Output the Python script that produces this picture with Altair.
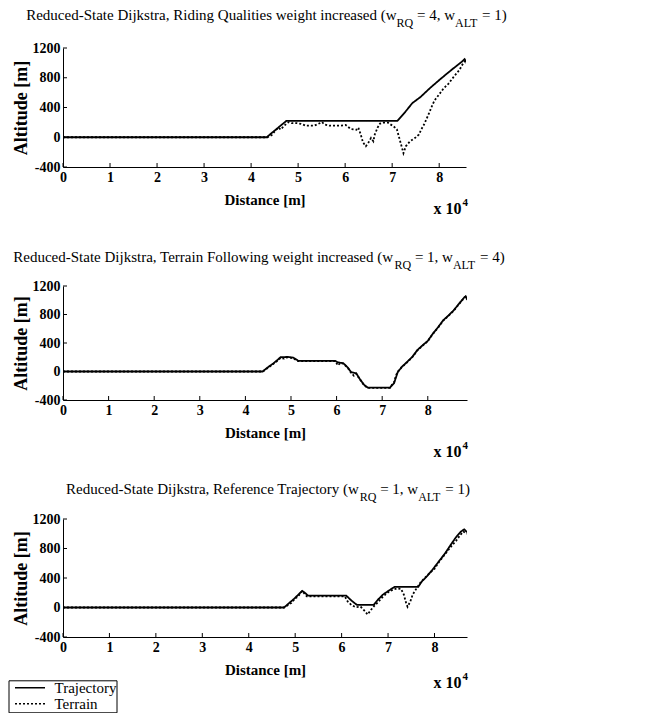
import altair as alt
import pandas as pd

# ---------------- data (distance in m, altitude in m) ----------------
p1_traj_x = [0, 43300, 47500, 71100, 72700, 74300, 76000, 78200, 80400, 82600, 84800, 85400, 85900]
p1_traj_y = [0, 0, 220, 220, 334, 460, 540, 670, 790, 905, 1015, 1050, 1000]
p1_terr_x = [0, 43500, 44400, 45200, 45800, 46300, 46900, 47500, 48000, 48600, 49700, 50600,
             51700, 53400, 55100, 55600, 56700, 59000, 60100, 61200, 62400, 62800, 63300,
             63800, 64400, 64900, 65500, 66000, 66300, 66900, 67400, 68200, 69100, 69600,
             70200, 71000, 71500, 72100, 72400, 72900, 73800, 74900, 75700, 76200, 76800,
             77600, 78500, 79000, 80100, 80900, 82000, 83100, 84300, 85100, 85600, 85900]
p1_terr_y = [0, 0, 30, 95, 129, 103, 147, 181, 203, 190, 190, 181,
             155, 155, 203, 172, 155, 155, 165, 110, 100, 130, 40,
             -70, -120, -77, -10, -54, 37, 129, 183, 197, 197, 174,
             152, 106, -8, -145, -214, -122, -54, -8, 37, 106, 174,
             288, 425, 494, 585, 654, 722, 814, 905, 996, 1030, 985]

p2_traj_x = [0, 43800, 44900, 46100, 47000, 47700, 49300, 50500, 51600, 59700, 60300, 61500,
             62400, 63200, 64300, 65100, 66000, 66800, 71700, 72600, 73400, 74300, 75400,
             76600, 77700, 78900, 80000, 81100, 82300, 83400, 84600, 85700, 86900, 88000,
             88300, 88600]
p2_traj_y = [0, 0, 58, 112, 160, 200, 205, 195, 150, 150, 128, 115,
             60, -10, -25, -105, -185, -225, -225, -165, -10, 65, 130,
             205, 300, 370, 430, 530, 625, 720, 790, 860, 955, 1040,
             1055, 1015]
p2_terr_x = [0, 43800, 44900, 46100, 47000, 47700, 48500, 49300, 50500, 51600, 59700, 60300,
             60800, 61500, 62400, 63200, 63800, 64300, 65100, 66000, 66800, 71700, 72200,
             72600, 73000, 73400, 74300, 75400, 76600, 77700, 78900, 80000, 81100, 82300,
             83400, 84600, 85700, 86900, 88000, 88300, 88600]
p2_terr_y = [0, 0, 50, 105, 150, 190, 180, 200, 185, 145, 145, 85,
             120, 110, 55, -20, -60, -30, -110, -190, -230, -230, -180,
             -150, -60, -5, 60, 125, 200, 295, 365, 425, 525, 620,
             715, 785, 855, 950, 1035, 1050, 1005]

p3_traj_x = [0, 47600, 49800, 51500, 52000, 52800, 61000, 62100, 63300, 66900, 67800, 68900,
             70300, 71400, 76500, 77300, 78400, 79600, 81000, 82400, 83500, 84600, 85700,
             86400, 87000]
p3_traj_y = [0, 0, 120, 225, 205, 160, 160, 95, 35, 35, 105, 175,
             235, 280, 280, 355, 425, 515, 630, 745, 850, 950, 1030,
             1060, 1020]
p3_terr_x = [0, 47600, 49200, 50000, 50600, 51500, 52500, 60700, 61300, 62100, 63000, 64100,
             64900, 65600, 66300, 67200, 67800, 68600, 69400, 70300, 71100, 72000, 72800,
             73400, 73900, 74200, 74800, 75300, 76200, 77000, 77900, 79000, 80000, 81000,
             82900, 84000, 84600, 85400, 86200, 87000]
p3_terr_y = [0, 0, 63, 126, 146, 225, 150, 150, 82, 35, 5, 10,
             -43, -95, -34, 35, 68, 128, 174, 220, 243, 260, 252,
             174, 58, 10, 82, 174, 266, 340, 400, 470, 525, 620,
             774, 860, 900, 970, 1030, 1000]

series_names = ["Trajectory", "Terrain"]
x_tick_values = [0, 10000, 20000, 30000, 40000, 50000, 60000, 70000, 80000]
y_tick_values = [-400, 0, 400, 800, 1200]

titles = [
    [("Reduced-State Dijkstra, Riding Qualities weight increased (w", 0), ("RQ", 1),
     (" = 4, w", 0), ("ALT", 1), (" = 1)", 0)],
    [("Reduced-State Dijkstra, Terrain Following weight increased (w", 0), ("RQ", 1),
     (" = 1, w", 0), ("ALT", 1), (" = 4)", 0)],
    [("Reduced-State Dijkstra, Reference Trajectory (w", 0), ("RQ", 1),
     (" = 1, w", 0), ("ALT", 1), (" = 1)", 0)],
]

# ---------------- layout ----------------
FONT = "Liberation Serif"
panels = [
    dict(tx=p1_traj_x, ty=p1_traj_y, rx=p1_terr_x, ry=p1_terr_y, xmax=85700, w=403, h=119,
         title_base=-28, title_dx=2, exp_base=46.6),
    dict(tx=p2_traj_x, ty=p2_traj_y, rx=p2_terr_x, ry=p2_terr_y, xmax=88600, w=404, h=114,
         title_base=-24, title_dx=-6, exp_base=56.6),
    dict(tx=p3_traj_x, ty=p3_traj_y, rx=p3_terr_x, ry=p3_terr_y, xmax=87000, w=404, h=118,
         title_base=-25, title_dx=3, exp_base=50.6),
]

# Times / Liberation Serif advance widths (per 1000 em)
TW = {' ': 250, '(': 333, ')': 333, ',': 250, '-': 333, '=': 564, '.': 250,
      'a': 444, 'b': 500, 'c': 444, 'd': 500, 'e': 444, 'f': 333, 'g': 500, 'h': 500,
      'i': 278, 'j': 278, 'k': 500, 'l': 278, 'm': 778, 'n': 500, 'o': 500, 'p': 500,
      'q': 500, 'r': 333, 's': 389, 't': 278, 'u': 500, 'v': 500, 'w': 722, 'x': 500,
      'y': 500, 'z': 444,
      'A': 722, 'D': 722, 'F': 556, 'L': 611, 'Q': 722, 'R': 667, 'S': 556, 'T': 611}
for d in "0123456789":
    TW[d] = 500


def text_w(s, size):
    return sum(TW.get(c, 500) for c in s) * size / 1000.0


MAIN_FS = 15
SUB_FS = 12
SUB_DY = 7

y_scale = alt.Scale(domain=[-400, 1200], nice=False, zero=False)
dash_scale = alt.Scale(domain=series_names, range=[[1, 0], [2, 2]])

legend = alt.Legend(
    title=None, orient="none", legendX=-54.5, legendY=632.3,
    strokeColor="black", fillColor="white", padding=0, rowPadding=0,
    labelFont=FONT, labelFontSize=15, labelColor="black", labelFontWeight="normal",
    symbolType="M-2.5,0H2.5", symbolSize=144, symbolStrokeColor="black",
    symbolStrokeWidth=1.5, symbolOffset=14, labelOffset=17, cornerRadius=0,
)

x_axis = alt.Axis(values=x_tick_values, labelExpr="'' + (datum.value / 10000)",
                  title="Distance [m]")
y_axis = alt.Axis(values=y_tick_values, labelExpr="'' + datum.value", title="Altitude [m]")

charts = []
for i, p in enumerate(panels):
    x_scale = alt.Scale(domain=[0, p["xmax"]], nice=False, zero=False)
    rows = []
    for xv, yv in zip(p["tx"], p["ty"]):
        rows.append({"d": xv, "alt": yv, "series": "Trajectory"})
    for xv, yv in zip(p["rx"], p["ry"]):
        rows.append({"d": xv, "alt": yv, "series": "Terrain"})
    df = pd.DataFrame(rows)
    df["o"] = range(len(df))

    lines = alt.Chart(df).mark_line(strokeWidth=1.8, clip=True, color="black").encode(
        x=alt.X("d:Q", scale=x_scale, axis=x_axis),
        y=alt.Y("alt:Q", scale=y_scale, axis=y_axis),
        strokeDash=alt.StrokeDash("series:N", scale=dash_scale, legend=legend),
        order="o:Q",
    )

    xt = alt.Chart(pd.DataFrame({"d": x_tick_values})).mark_rule(color="black", strokeWidth=1).encode(
        x=alt.X("d:Q", scale=x_scale, axis=x_axis),
        y=alt.value(p["h"]), y2=alt.value(p["h"] - 4),
    )
    yt = alt.Chart(pd.DataFrame({"alt": y_tick_values})).mark_rule(color="black", strokeWidth=1).encode(
        y=alt.Y("alt:Q", scale=y_scale, axis=y_axis),
        x=alt.value(0), x2=alt.value(4),
    )

    layers = [lines, xt, yt]

    # title pieces (with subscripts); leading spaces become x advances
    parts = titles[i]
    total = sum(text_w(s, SUB_FS if sub else MAIN_FS) for s, sub in parts)
    cx = p["w"] / 2 - total / 2 + p["title_dx"]
    for s, sub in parts:
        fs = SUB_FS if sub else MAIN_FS
        lead = len(s) - len(s.lstrip(" "))
        cx += text_w(" " * lead, fs)
        s2 = s.lstrip(" ")
        layers.append(
            alt.Chart(pd.DataFrame({"t": [s2]})).mark_text(
                align="left", baseline="alphabetic", font=FONT, fontSize=fs, color="black"
            ).encode(text="t:N", x=alt.value(cx),
                     y=alt.value(p["title_base"] + (SUB_DY if sub else 0)))
        )
        cx += text_w(s2, fs)

    # "x 10^4" exponent label
    ex = 370.5
    layers.append(
        alt.Chart(pd.DataFrame({"t": ["x 10"]})).mark_text(
            align="left", baseline="alphabetic", font=FONT, fontSize=16, fontWeight="bold",
            color="black"
        ).encode(text="t:N", x=alt.value(ex), y=alt.value(p["h"] + p["exp_base"]))
    )
    layers.append(
        alt.Chart(pd.DataFrame({"t": ["4"]})).mark_text(
            align="left", baseline="alphabetic", font=FONT, fontSize=11, fontWeight="bold",
            color="black"
        ).encode(text="t:N", x=alt.value(ex + text_w("x 10", 16) + 1),
                 y=alt.value(p["h"] + p["exp_base"] - 8))
    )

    charts.append(alt.layer(*layers).properties(width=p["w"], height=p["h"]))

chart = alt.vconcat(*charts, spacing=119, bounds="flush").properties(
    padding={"left": 0, "top": 0, "right": 0, "bottom": 0}
).configure_view(stroke=None).configure_axis(
    grid=False, ticks=False, domainColor="black", domainWidth=1,
    labelFont=FONT, labelFontSize=14, labelFontWeight="bold", labelColor="black",
    labelPadding=3, titleFont=FONT, titleFontWeight="bold", titleColor="black",
).configure_axisX(
    titleFontSize=15, titlePadding=8, labelFlush=False,
).configure_axisY(
    titleFontSize=18, titlePadding=2,
)

chart.save("out.html", embed_options={"renderer": "svg", "actions": False})
